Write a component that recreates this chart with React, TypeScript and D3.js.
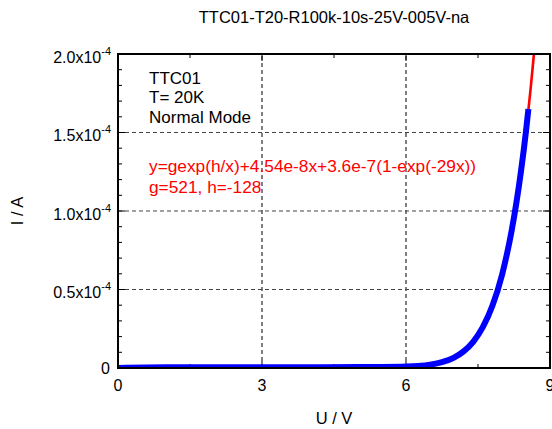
import React from "react";
import * as d3 from "d3";

// measured I-U curve (blue), values in A
const dataU = [0, 1, 2, 3, 4, 5, 5.5, 6, 6.25, 6.5, 6.75, 7, 7.2, 7.4, 7.6, 7.8, 8.0, 8.1, 8.2, 8.3, 8.4, 8.5, 8.55];
const dataI = [0, 4.0e-7, 4.5e-7, 5.0e-7, 5.4e-7, 5.9e-7, 6.5e-7, 9.2e-7, 1.31e-6, 2.12e-6, 3.69e-6, 6.64e-6, 1.06e-5, 1.67e-5, 2.6e-5, 3.96e-5, 5.93e-5, 7.22e-5, 8.73e-5, 1.052e-4, 1.263e-4, 1.509e-4, 1.65e-4];

// fit curve (red)
const fitU = [0, 0.05, 0.1, 0.2, 1, 2, 3, 4, 5, 5.5, 6, 6.25, 6.5, 6.75, 7, 7.2, 7.4, 7.6, 7.8, 8.0, 8.1, 8.2, 8.3, 8.4, 8.5, 8.6, 8.65, 8.7];
const fitI = [0, 2.7e-7, 3.4e-7, 3.7e-7, 4.0e-7, 4.5e-7, 5.0e-7, 5.4e-7, 5.9e-7, 6.5e-7, 9.2e-7, 1.31e-6, 2.12e-6, 3.69e-6, 6.64e-6, 1.06e-5, 1.67e-5, 2.6e-5, 3.96e-5, 5.93e-5, 7.22e-5, 8.73e-5, 1.052e-4, 1.263e-4, 1.509e-4, 1.79e-4, 1.95e-4, 2.12e-4];

const xTicks = [0, 3, 6, 9];
const xMinor = [1.5, 4.5, 7.5];
const yTicks = [0, 0.5e-4, 1.0e-4, 1.5e-4, 2.0e-4];
const yTickLabels = ["0", "0.5x10", "1.0x10", "1.5x10", "2.0x10"];

const infoLines = ["TTC01", "T= 20K", "Normal Mode"];
const fitLines = ["y=gexp(h/x)+4.54e-8x+3.6e-7(1-exp(-29x))", "g=521, h=-128"];

export default function App() {
  const width = 552;
  const height = 429;
  const margin = { top: 54, right: 2, bottom: 61, left: 118 };
  const font = "'Liberation Sans', Arial, sans-serif";

  const x = d3.scaleLinear().domain([0, 9]).range([margin.left, width - margin.right]);
  const y = d3.scaleLinear().domain([0, 2.0e-4]).range([height - margin.bottom, margin.top]);

  const dataPath = d3.line<number>()
    .x((d, i) => x(dataU[i]))
    .y((d) => y(d))
    .curve(d3.curveMonotoneX)(dataI);
  const fitPath = d3.line<number>()
    .x((d, i) => x(fitU[i]))
    .y((d) => y(d))
    .curve(d3.curveMonotoneX)(fitI);

  const x0 = x(0), x1 = x(9), y0 = y(0), y1 = y(2.0e-4);
  const yMinor = d3.range(0, 21).map((k) => k * 1e-5);

  return (
    <svg width={width} height={height} style={{ position: "absolute", left: 0, top: 0 }}>
      <defs>
        <clipPath id="plotClip">
          <rect x={x0} y={y1} width={x1 - x0} height={y0 - y1} />
        </clipPath>
      </defs>
      <rect width={width} height={height} fill="white" />
      <text x={(x0 + x1) / 2} y={23} textAnchor="middle" fontFamily={font} fontSize={16.5} fill="#000">
        TTC01-T20-R100k-10s-25V-005V-na
      </text>

      {/* grid */}
      {xTicks.slice(1, 3).map((t) => (
        <line key={"gx" + t} x1={x(t)} x2={x(t)} y1={y0} y2={y1} stroke="#000" strokeWidth={1} strokeDasharray="4,3" />
      ))}
      {yTicks.slice(1, 4).map((t) => (
        <line key={"gy" + t} x1={x0} x2={x1} y1={y(t)} y2={y(t)} stroke="#444" strokeWidth={1.2} strokeDasharray="4,3" />
      ))}

      {/* ticks */}
      {yMinor.map((t, k) => {
        const len = k % 5 === 0 ? 7 : 4;
        return (
          <g key={"ym" + k}>
            <line x1={x0} x2={x0 + len} y1={y(t)} y2={y(t)} stroke="#000" strokeWidth={1} />
            <line x1={x1} x2={x1 - len} y1={y(t)} y2={y(t)} stroke="#000" strokeWidth={1} />
          </g>
        );
      })}
      {xMinor.concat(xTicks).map((t) => {
        const len = xMinor.includes(t) ? 4 : 7;
        return (
          <g key={"xm" + t}>
            <line x1={x(t)} x2={x(t)} y1={y0} y2={y0 - len} stroke="#000" strokeWidth={1} />
            <line x1={x(t)} x2={x(t)} y1={y1} y2={y1 + len} stroke="#000" strokeWidth={1} />
          </g>
        );
      })}

      {/* curves */}
      <g clipPath="url(#plotClip)">
        <path d={fitPath || ""} fill="none" stroke="#ff0000" strokeWidth={2.6} />
        <path d={dataPath || ""} fill="none" stroke="#0000ff" strokeWidth={6} strokeLinejoin="round" />
      </g>

      {/* frame */}
      <rect x={x0} y={y1} width={x1 - x0} height={y0 - y1} fill="none" stroke="#000" strokeWidth={2} />

      {/* y labels */}
      {yTicks.map((t, i) =>
        i === 0 ? (
          <text key={"yl" + i} x={110} y={y(t) + 6} textAnchor="end" fontFamily={font} fontSize={16} fill="#000">
            {yTickLabels[i]}
          </text>
        ) : (
          <text key={"yl" + i} x={111} y={y(t) + 8.5} textAnchor="end" fontFamily={font} fontSize={16} fill="#000">
            {yTickLabels[i]}
            <tspan fontSize={11} dy={-8}>-4</tspan>
          </text>
        )
      )}
      {/* x labels */}
      {xTicks.map((t) => (
        <text key={"xl" + t} x={x(t)} y={391} textAnchor="middle" fontFamily={font} fontSize={16} fill="#000">
          {t}
        </text>
      ))}

      <text x={(x0 + x1) / 2} y={424} textAnchor="middle" fontFamily={font} fontSize={16.5} fill="#000">
        U / V
      </text>
      <text transform={`translate(23,${(y0 + y1) / 2}) rotate(-90)`} textAnchor="middle" fontFamily={font} fontSize={16.5} fill="#000">
        I / A
      </text>

      {infoLines.map((s, i) => (
        <text key={s} x={149} y={83.5 + i * 19.6} fontFamily={font} fontSize={17} fill="#000">
          {s}
        </text>
      ))}
      {fitLines.map((s, i) => (
        <text key={s} x={149} y={171.5 + i * 21.8} fontFamily={font} fontSize={17.3} fill="#ff0000">
          {s}
        </text>
      ))}
    </svg>
  );
}
